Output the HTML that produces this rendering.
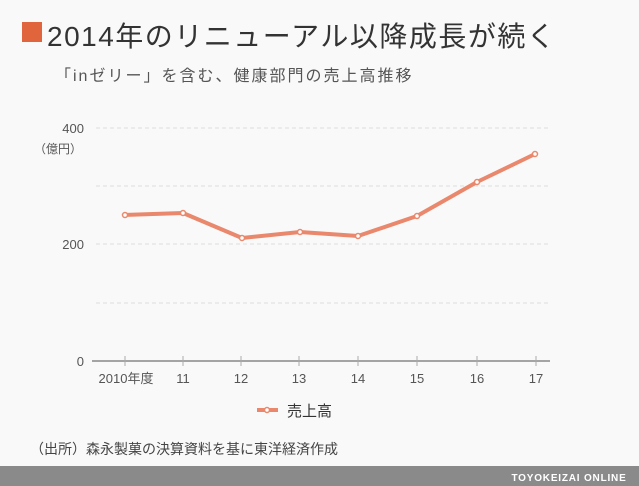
<!DOCTYPE html>
<html><head><meta charset="utf-8"><style>
body{margin:0;width:639px;height:486px;background:#f9f9f9;overflow:hidden;font-family:"Liberation Sans","Noto Sans CJK JP",sans-serif;position:relative}
.t{position:absolute;white-space:nowrap}
</style></head><body>
<div style="position:absolute;left:22px;top:22px;width:20px;height:20px;background:#e0643c"></div>
<div class="t" style="left:47px;top:15px;font-size:28px;color:#333;letter-spacing:1.5px">2014年のリニューアル以降成長が続く</div>
<div class="t" style="left:55px;top:62px;font-size:16px;color:#555;letter-spacing:2px">「inゼリー」を含む、健康部門の売上高推移</div>
<svg width="639" height="486" style="position:absolute;left:0;top:0" font-family="Liberation Sans, Noto Sans CJK JP, sans-serif">
<g stroke="#ddd" stroke-dasharray="4,3" stroke-width="1">
<line x1="96" y1="128" x2="550" y2="128"/><line x1="96" y1="186" x2="550" y2="186"/><line x1="96" y1="244" x2="550" y2="244"/><line x1="96" y1="303" x2="550" y2="303"/></g>
<line x1="92" y1="361" x2="550" y2="361" stroke="#888" stroke-width="1.5"/>
<g stroke="#aaa"><line x1="125" y1="356" x2="125" y2="366"/><line x1="183" y1="356" x2="183" y2="366"/><line x1="241" y1="356" x2="241" y2="366"/><line x1="299" y1="356" x2="299" y2="366"/><line x1="358" y1="356" x2="358" y2="366"/><line x1="417" y1="356" x2="417" y2="366"/><line x1="477" y1="356" x2="477" y2="366"/><line x1="536" y1="356" x2="536" y2="366"/></g>
<g font-size="13" fill="#555" text-anchor="end"><text x="84" y="133">400</text><text x="84" y="249">200</text><text x="84" y="366">0</text></g>
<text x="82" y="153" font-size="12" fill="#555" text-anchor="end">（億円）</text>
<g font-size="13" fill="#555" text-anchor="middle"><text x="126" y="383">2010年度</text><text x="183" y="383">11</text><text x="241" y="383">12</text><text x="299" y="383">13</text><text x="358" y="383">14</text><text x="417" y="383">15</text><text x="477" y="383">16</text><text x="536" y="383">17</text></g>
<polyline points="125,215 183,213 242,238 300,232 358,236 417,216 477,182 535,154" fill="none" stroke="#e9886c" stroke-width="4" stroke-linejoin="round"/>
<g fill="#fff" stroke="#e9886c" stroke-width="1.5"><circle cx="125" cy="215" r="2.5"/><circle cx="183" cy="213" r="2.5"/><circle cx="242" cy="238" r="2.5"/><circle cx="300" cy="232" r="2.5"/><circle cx="358" cy="236" r="2.5"/><circle cx="417" cy="216" r="2.5"/><circle cx="477" cy="182" r="2.5"/><circle cx="535" cy="154" r="2.5"/></g>
<line x1="257" y1="410" x2="278" y2="410" stroke="#e9886c" stroke-width="4"/><circle cx="267" cy="410" r="2.5" fill="#fff" stroke="#e9886c" stroke-width="1.5"/>
<text x="287" y="416" font-size="15" fill="#333">売上高</text>
<text x="30" y="454" font-size="14" fill="#444">（出所）森永製菓の決算資料を基に東洋経済作成</text>
<rect x="0" y="466" width="639" height="20" fill="#8a8a8a"/>
<text x="569" y="481" font-size="10" fill="#fff" text-anchor="middle" font-weight="bold" letter-spacing="0.8">TOYOKEIZAI ONLINE</text>
</svg>
</body></html>
